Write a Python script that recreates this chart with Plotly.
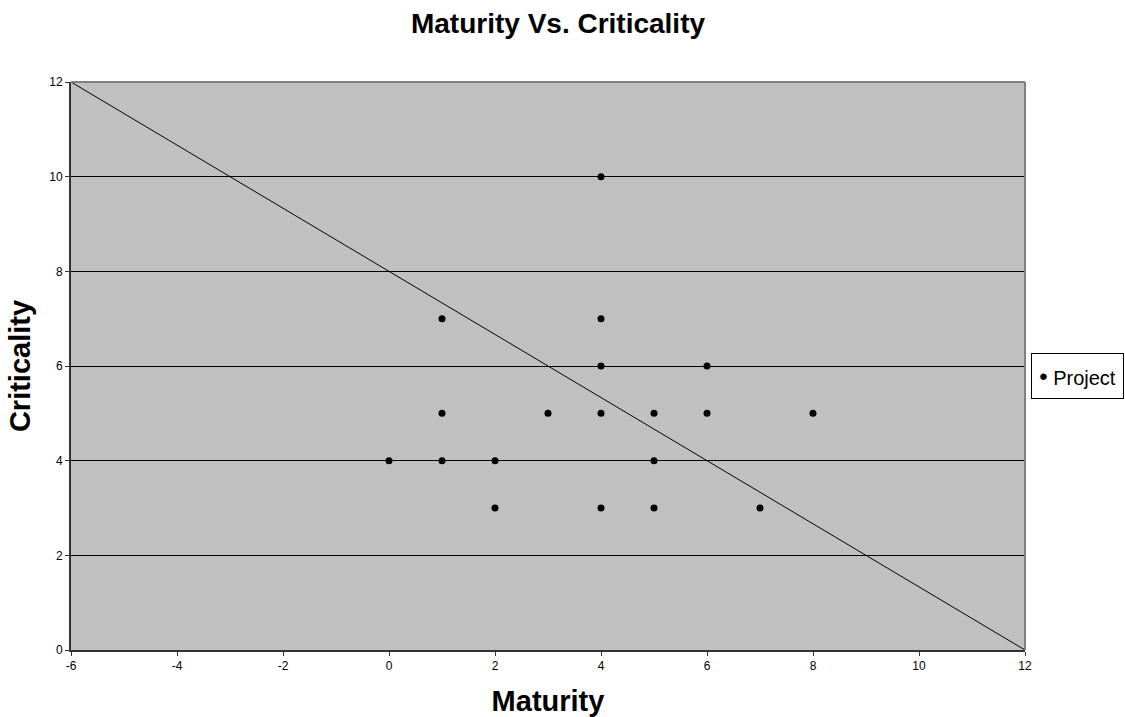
import plotly.graph_objects as go

# Data
maturity = [4, 1, 4, 4, 6, 1, 3, 4, 5, 6, 8, 0, 1, 2, 5, 2, 4, 5, 7]
criticality = [10, 7, 7, 6, 6, 5, 5, 5, 5, 5, 5, 4, 4, 4, 4, 3, 3, 3, 3]
line_x = [-6, 12]
line_y = [12, 0]
x_ticks = [-6, -4, -2, 0, 2, 4, 6, 8, 10, 12]
y_ticks = [0, 2, 4, 6, 8, 10, 12]
series_name = "Project"

FONT = "Liberation Sans, Arial, Helvetica, sans-serif"

fig = go.Figure()
fig.add_trace(go.Scatter(
    x=line_x, y=line_y, mode="lines",
    line=dict(color="black", width=1),
    showlegend=False, hoverinfo="skip",
))
fig.add_trace(go.Scatter(
    x=maturity, y=criticality, mode="markers", name=series_name,
    marker=dict(color="black", size=7),
    showlegend=False,
))

W, H = 1125, 717
L, R, T, B = 71, 100, 82, 67
pw = W - L - R
ph = H - T - B

fig.update_layout(
    width=W, height=H,
    margin=dict(l=L, r=R, t=T, b=B, autoexpand=False),
    paper_bgcolor="white",
    plot_bgcolor="#C0C0C0",
    font=dict(family=FONT, color="black"),
    title=dict(
        text="<b>Maturity Vs. Criticality</b>",
        x=(558 - L) / pw, xanchor="center", xref="paper",
        y=1 - 23 / H, yanchor="middle",
        font=dict(size=28, family=FONT, color="black"),
    ),
    showlegend=False,
)

# legend box (single series)
fig.add_annotation(
    xref="paper", yref="paper",
    x=(1031 - L) / pw, xanchor="left",
    y=(650 - 376) / ph, yanchor="middle",
    text="<span style='font-size:24px'>\u2022</span> " + series_name, showarrow=False,
    font=dict(size=20, family=FONT, color="black"),
    bgcolor="white", bordercolor="black", borderwidth=1, borderpad=0,
    width=91, height=44, align="center",
)

fig.update_xaxes(
    range=[-6, 12], tickvals=x_ticks, ticktext=[str(v) for v in x_ticks],
    showgrid=False, zeroline=False,
    showline=True, linecolor="#333333", linewidth=2,
    ticks="outside", ticklen=4, tickcolor="#333333",
    tickfont=dict(size=12, family=FONT, color="black"),
    title=dict(text="<b>Maturity</b>", font=dict(size=29, family=FONT, color="black"), standoff=18),
)
fig.update_yaxes(
    range=[0, 12], tickvals=y_ticks, ticktext=[str(v) for v in y_ticks],
    showgrid=True, gridcolor="black", gridwidth=1,
    zeroline=False,
    showline=True, linecolor="#333333", linewidth=2,
    ticks="outside", ticklen=4, tickcolor="#333333",
    tickfont=dict(size=12, family=FONT, color="black"),
    title=dict(text="<b>Criticality</b>", font=dict(size=29, family=FONT, color="black"), standoff=10),
)

# gray frame on top and right
fig.add_shape(type="line", xref="x domain", yref="y domain", x0=0, x1=1, y0=1, y1=1,
              line=dict(color="#808080", width=2), layer="above")
fig.add_shape(type="line", xref="x domain", yref="y domain", x0=1, x1=1, y0=0, y1=1,
              line=dict(color="#808080", width=2), layer="above")

fig.write_html("out.html")
